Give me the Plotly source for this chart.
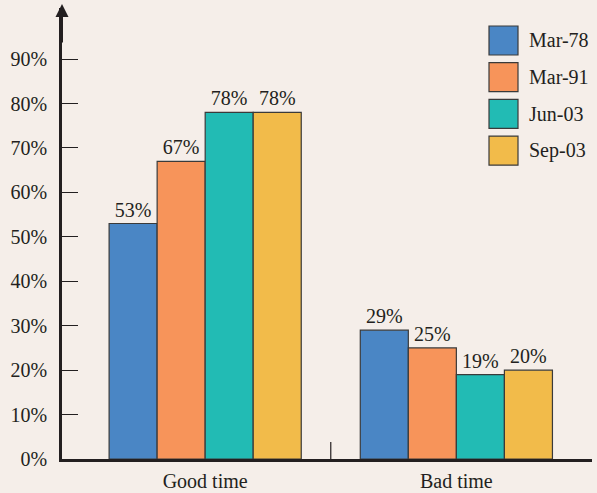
import plotly.graph_objects as go

categories = ["Good time", "Bad time"]
series_names = ["Mar-78", "Mar-91", "Jun-03", "Sep-03"]
values = {
    "Mar-78": [53, 29],
    "Mar-91": [67, 25],
    "Jun-03": [78, 19],
    "Sep-03": [78, 20],
}
colors = ["#4a86c5", "#f7945a", "#22bbb4", "#f2bb4a"]
tick_vals = [0, 10, 20, 30, 40, 50, 60, 70, 80, 90]
tick_text = [f"{v}%" for v in tick_vals]

W, H = 597, 493
ML, MR, MT, MB = 62, 5, 8, 34
PW, PH = W - ML - MR, H - MT - MB
BG = "#f5eee9"
INK = "#231f20"
FONT = "Liberation Serif, Times New Roman, serif"
FS = 20

def px2paper(x, y):
    return (x - ML) / PW, (H - MB - y) / PH

fig = go.Figure()
for name, col in zip(series_names, colors):
    fig.add_trace(go.Bar(
        x=categories, y=values[name], name=name,
        marker=dict(color=col, line=dict(color="#3a3a3a", width=1.2)),
        text=[f"{v}%" for v in values[name]],
        textposition="outside", cliponaxis=False,
        textfont=dict(family=FONT, size=FS, color=INK),
        showlegend=False,
    ))

shapes = []
annotations = []
# middle tick between categories on x axis
shapes.append(dict(type="line", xref="x", yref="y", ysizemode="pixel", yanchor=0,
                   x0=0.5, x1=0.5, y0=0, y1=17, line=dict(color=INK, width=1.2)))
# arrow on y axis
annotations.append(dict(x=0, y=1 + 4 / PH, xref="paper", yref="paper", ax=0, ay=40,
                        text="", showarrow=True,
                        arrowhead=2, arrowsize=1.3, arrowwidth=2, arrowcolor=INK))
# custom legend
for i, (name, col) in enumerate(zip(series_names, colors)):
    top = 26 + i * 36.7
    x0, y1 = px2paper(489, top)
    x1, y0 = px2paper(518, top + 29)
    shapes.append(dict(type="rect", xref="paper", yref="paper", x0=x0, x1=x1, y0=y0, y1=y1,
                       fillcolor=col, line=dict(color="#3a3a3a", width=1.2)))
    tx, ty = px2paper(527, top + 14.5)
    annotations.append(dict(x=tx, y=ty, xref="paper", yref="paper", text=name,
                            showarrow=False, xanchor="left", yanchor="middle",
                            font=dict(family=FONT, size=FS, color=INK)))

fig.update_layout(
    width=W, height=H, margin=dict(l=ML, r=MR, t=MT, b=MB),
    paper_bgcolor=BG, plot_bgcolor=BG,
    barmode="group", bargap=0.235, bargroupgap=0,
    font=dict(family=FONT, size=FS, color=INK),
    shapes=shapes, annotations=annotations,
)
fig.update_xaxes(range=[-0.57, 1.54], showline=True, linecolor=INK, linewidth=2.5,
                 ticks="", showgrid=False, zeroline=False, automargin=False,
                 ticklabelstandoff=2,
                 tickfont=dict(family=FONT, size=FS, color=INK))
fig.update_yaxes(range=[0, 101.5], tickvals=tick_vals, ticktext=tick_text,
                 showline=True, linecolor=INK, linewidth=2.5, ticks="inside",
                 ticklen=16, tickwidth=1.2, tickcolor=INK, showgrid=False,
                 zeroline=False, ticklabelstandoff=8, automargin=False,
                 tickfont=dict(family=FONT, size=FS, color=INK))

fig.write_html("out.html", config={"displayModeBar": False},
               post_script="document.body.style.margin='0';document.body.style.background='%s';" % BG)
